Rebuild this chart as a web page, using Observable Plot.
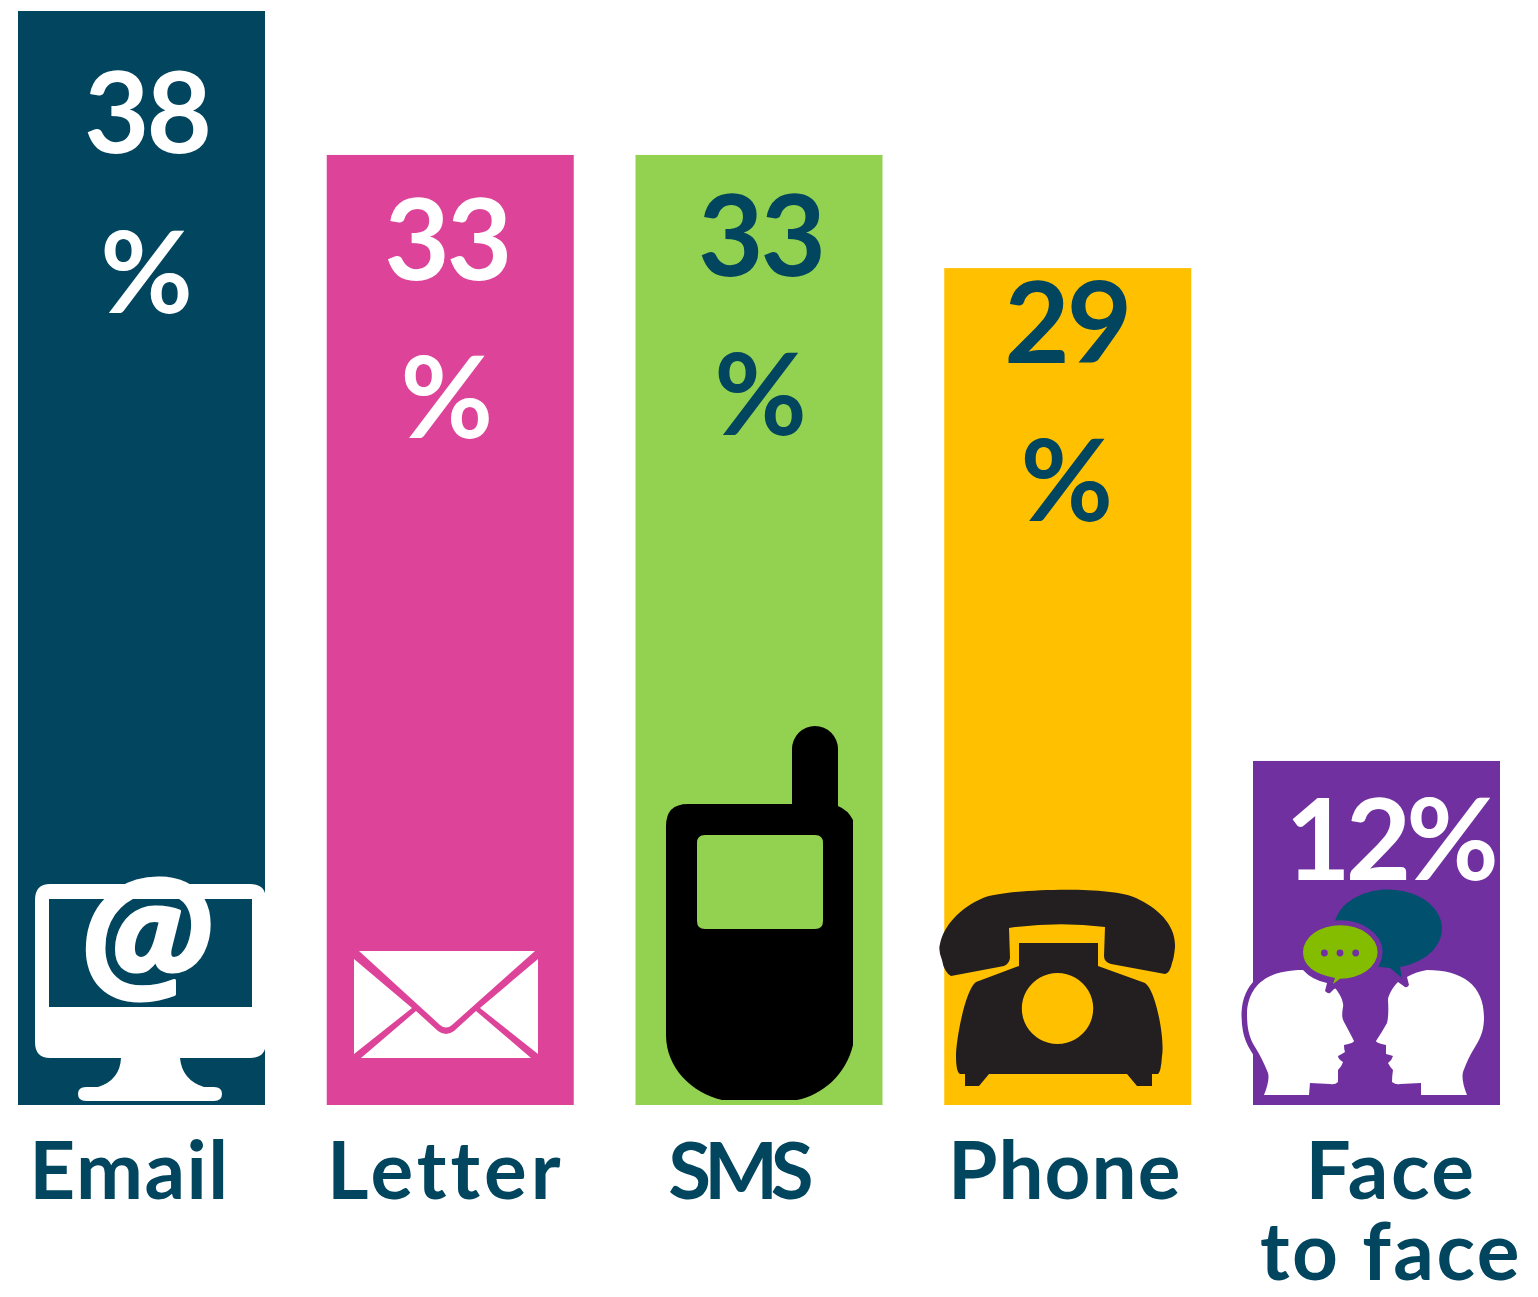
<!DOCTYPE html>
<html>
<head>
<meta charset="utf-8">
<style>html,body{margin:0;padding:0;background:#fff}svg{display:block;overflow:visible}</style>
<script src="https://cdn.jsdelivr.net/npm/d3@7"></script>
<script src="https://cdn.jsdelivr.net/npm/@observablehq/plot@0.6"></script>
</head>
<body>
<script>
const categories = ["Email", "Letter", "SMS", "Phone", "Face to face"];
const axisLabels = ["Email", "Letter", "SMS", "Phone", "Face\nto face"];
const barValues = [38, 33, 33, 29.07, 11.95];
const valueLabels = [["38", "%"], ["33", "%"], ["33", "%"], ["29", "%"], ["12%"]];

const barColors = ["#01455e", "#dd4499", "#92d250", "#ffc000", "#7030a0"];
const textColors = ["#fff", "#fff", "#01455e", "#01455e", "#fff"];
const ink = "#01455e";
const font = "Lato";

// per-bar label offsets from the top of the bar, first line and second line
const valueOffsets = [
  {dx: 4.5, dy: [152 - 11, 312 - 11], track: -3},
  {dx: -4, dy: [125, 283], track: -3},
  {dx: 1, dy: [121, 280], track: -3},
  {dx: -1.5, dy: [94, 252], track: -3},
  {dx: 12.5, dy: [119], track: -5}
];
const axisOffsets = [
  {dx: -12.5, dy: 93, track: 1.5, size: 80},
  {dx: -5, dy: 93, track: 4, size: 80},
  {dx: -22, dy: 93, track: -7, size: 78},
  {dx: -3.5, dy: 93, track: 1, size: 80},
  {dx: 14, dy: 174, track: 2.5, size: 80}
];

const track = (value) => (index, scales, values, dimensions, context, next) => {
  const node = next(index, scales, values, dimensions, context);
  node.style.letterSpacing = `${value}px`;
  return node;
};

// Pictograms: drawn relative to the foot of their bar
const icons = [
  {cat: "Email", parts: [
    {fill: "#fff", rule: "evenodd", d: "M50 884H250Q266 884 266 900V1042Q266 1058 250 1058H180Q182 1080 204 1087H214Q222 1087 222 1094T214 1101H86Q78 1101 78 1094T86 1087H98Q120 1080 121 1058H50Q35 1058 35 1042V900Q35 884 50 884ZM49 899V1007H252V899Z"}
  ]},
  {cat: "Letter", parts: [
    {fill: "#fff", d: "M359 951H535L452 1025Q446 1030 440 1025Z"},
    {fill: "#fff", d: "M354 959L412 1008L354 1054Z"},
    {fill: "#fff", d: "M538 959L480 1008L538 1054Z"},
    {fill: "#fff", d: "M361 1058L416 1011L438 1031Q446 1037 454 1031L476 1011L531 1058Z"}
  ]},
  {cat: "SMS", parts: [
    {fill: "#000", rule: "evenodd", d: "M688 804H792V749A23 23 0 0 1 838 749V806Q848 810 853 820V1045C846 1075 822 1095 797 1100H722C692 1093 666 1068 666 1035V826Q666 804 688 804ZM705 835Q697 835 697 843V921Q697 929 705 929H815Q823 929 823 921V843Q823 835 815 835Z"}
  ]},
  {cat: "Phone", parts: [
    {fill: "#231f20", d: "M951 976Q944 972 942 960Q938 950 940 944C944 925 960 908 983 898C1005 889 1110 885 1136 898C1158 908 1176 925 1175 947Q1174 958 1172 963Q1170 973 1165 974L1111 964Q1104 962 1104 956L1105 927Q1058 921 1009 928L1010 958Q1009 964 1004 966Z"},
    {fill: "#231f20", d: "M1019 943H1098V966L1145 983C1156 990 1165 1040 1162 1056Q1161 1072 1158 1074H1152V1086H1137L1127 1074H989L979 1086H965V1074H960Q956 1072 956 1056C956 1040 965 990 976 982L1019 966Z"},
    {fill: "#ffc000", d: "M1057.5 973a35.7 35.5 0 1 0 .01 0Z"}
  ]},
  {cat: "Face to face", parts: [
    {fill: "#01516e", d: "M1334 930a54 39.3 0 1 1 66 37L1402 978L1390 968Q1345 965 1334 930Z"},
    {fill: "#fff", stroke: "#7030a0", sw: 11, d: "M1264 1095Q1270 1080 1268 1073Q1262 1058 1255 1047C1248 1036 1247 1025 1247 1013C1248 990 1262 970 1303 970Q1312 980 1327 983L1325 991Q1328 994 1330 993L1335 988C1341 995 1344 1003 1343 1007Q1341 1018 1344 1022Q1350 1033 1354 1041Q1354 1043 1344 1045Q1344 1050 1345 1052Q1342 1054 1338 1056Q1338 1059 1343 1062Q1342 1066 1338 1070Q1338 1076 1338 1082Q1335 1085 1330 1084L1310 1083L1309 1095Z"},
    {fill: "#fff", stroke: "#7030a0", sw: 11, d: "M1467 1095Q1461 1080 1463 1072Q1468 1058 1475 1047C1482 1036 1484 1028 1484 1017C1484 985 1462 970 1427 970Q1415 972 1407 977L1409 985Q1407 988 1405 987L1398 982C1392 988 1388 996 1388 1000Q1389 1015 1387 1023Q1382 1032 1376 1041Q1376 1043 1386 1045Q1386 1050 1386 1054Q1390 1055 1393 1056Q1392 1060 1388 1063Q1390 1067 1393 1070Q1392 1076 1392 1082Q1396 1085 1400 1084L1421 1083L1421 1095Z"},
    {fill: "#84bc00", stroke: "#7030a0", sw: 10, d: "M1303 952a37.3 26.7 0 1 1 37 26.7L1333 984L1335 978Q1303 972 1303 952Z"},
    {fill: "#7030a0", d: "M1321 953a3.4 3.4 0 1 0 6.8 0a3.4 3.4 0 1 0 -6.8 0M1336.6 953a3.4 3.4 0 1 0 6.8 0a3.4 3.4 0 1 0 -6.8 0M1352.3 953a3.4 3.4 0 1 0 6.8 0a3.4 3.4 0 1 0 -6.8 0Z"}
  ]}
];

const iconMark = (index, {x, y}) => {
  const root = d3.create("svg:g");
  const ref = x(categories[0]);
  icons.forEach((icon) => {
    const i = categories.indexOf(icon.cat);
    const offsetX = x(icon.cat) - ref - i * 308.75;
    const g = root.append("g").attr("transform", `translate(${offsetX},${y(0) - 1105})`);
    icon.parts.forEach((p) => {
      const path = g.append("path").attr("d", p.d).attr("fill", p.fill);
      if (p.rule) path.attr("fill-rule", p.rule);
      if (p.stroke) path.attr("stroke", p.stroke).attr("stroke-width", p.sw).attr("stroke-linejoin", "round").attr("paint-order", "stroke");
    });
  });
  return root.node();
};

const rows = categories.map((cat, i) => ({cat, value: barValues[i], color: barColors[i]}));

const valueMarks = [];
categories.forEach((cat, i) => {
  valueLabels[i].forEach((text, j) => {
    valueMarks.push(Plot.text([rows[i]], {
      x: "cat", y: "value", text: () => text,
      dx: valueOffsets[i].dx, dy: valueOffsets[i].dy[j],
      lineAnchor: "bottom", textAnchor: "middle",
      fill: textColors[i], fontFamily: font, fontWeight: 700, fontSize: 113,
      render: track(text === "%" ? 0 : valueOffsets[i].track)
    }));
  });
});

const axisMarks = categories.map((cat, i) => Plot.text([cat], {
  x: d => d, y: () => 0, text: () => axisLabels[i],
  dx: axisOffsets[i].dx, dy: axisOffsets[i].dy,
  lineAnchor: "bottom", textAnchor: "middle", lineHeight: 81 / axisOffsets[i].size,
  fill: ink, fontFamily: font, fontWeight: 700, fontSize: axisOffsets[i].size,
  render: track(axisOffsets[i].track)
}));

const chart = Plot.plot({
  width: 1538, height: 1297,
  marginTop: 0, marginRight: 0, marginBottom: 0, marginLeft: 0,
  style: {background: "#fff", overflow: "visible"},
  x: {domain: categories, range: [18, 1500], paddingInner: 0.2, paddingOuter: 0, align: 0, round: false, axis: null},
  y: {domain: [0, 38], range: [1105, 11], axis: null},
  marks: [
    Plot.barY(rows, {x: "cat", y: "value", fill: "color"}),
    iconMark,
    Plot.text(["Email"], {x: d => d, y: () => 0, text: () => "@", dx: 3.5, dy: -119, lineAnchor: "bottom", textAnchor: "middle", fill: "#fff", stroke: "#fff", strokeWidth: 3, fontFamily: "Open Sans", fontWeight: 700, fontStyle: "italic", fontSize: 152}),
    ...valueMarks,
    ...axisMarks
  ]
});
document.body.appendChild(chart);
</script>
</body>
</html>
